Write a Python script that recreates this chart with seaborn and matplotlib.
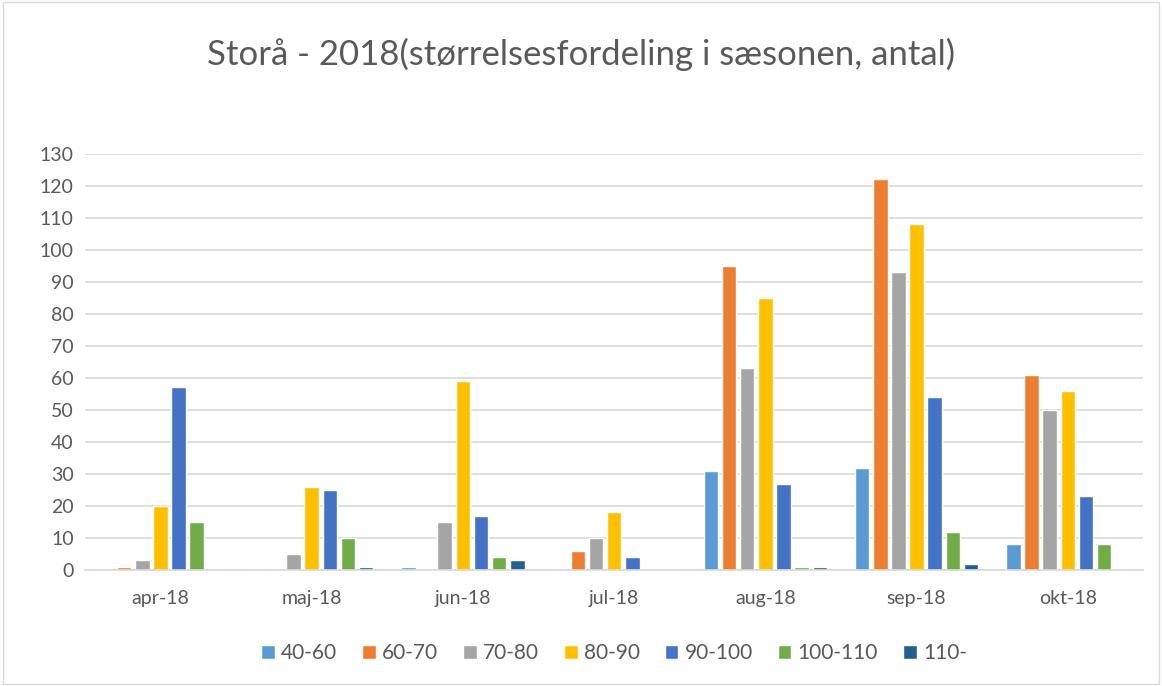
import matplotlib
matplotlib.use("Agg")
import matplotlib.pyplot as plt
import seaborn as sns
import pandas as pd
from matplotlib.patches import Rectangle

months = ["apr-18", "maj-18", "jun-18", "jul-18", "aug-18", "sep-18", "okt-18"]
sizes = ["40-60", "60-70", "70-80", "80-90", "90-100", "100-110", "110-"]
v_40_60 = [0, 0, 1, 0, 31, 32, 8]
v_60_70 = [1, 0, 0, 6, 95, 122, 61]
v_70_80 = [3, 5, 15, 10, 63, 93, 50]
v_80_90 = [20, 26, 59, 18, 85, 108, 56]
v_90_100 = [57, 25, 17, 4, 27, 54, 23]
v_100_110 = [15, 10, 4, 0, 1, 12, 8]
v_110 = [0, 1, 3, 0, 1, 2, 0]
series = [v_40_60, v_60_70, v_70_80, v_80_90, v_90_100, v_100_110, v_110]
colors = ["#5B9BD5", "#ED7D31", "#A5A5A5", "#FFC000", "#4472C4", "#70AD47", "#255E91"]

rows = []
for s, vals in zip(sizes, series):
    for m, v in zip(months, vals):
        rows.append({"month": m, "size": s, "count": v})
df = pd.DataFrame(rows)

sns.set_theme(style="white")
plt.rcParams["font.family"] = ["Lato", "DejaVu Sans"]
txt = "#595959"

fig = plt.figure(figsize=(11.62, 6.86), dpi=100)
ax = fig.add_axes([0.073, 0.169, 0.911, 0.607])
sns.barplot(data=df, x="month", y="count", hue="size", order=months, hue_order=sizes,
            palette=colors, width=0.84, gap=0.2, saturation=1, ax=ax, legend=True)

ax.set_ylim(0, 130)
ax.set_yticks(range(0, 131, 10))
ax.set_xlim(-0.5, len(months) - 0.5)
ax.yaxis.grid(True, color="#D9D9D9", linewidth=1.2)
ax.set_axisbelow(True)
for sp in ["top", "right", "left"]:
    ax.spines[sp].set_visible(False)
ax.spines["bottom"].set_color("#D9D9D9")
ax.spines["bottom"].set_linewidth(1.2)
ax.set_xlabel("")
ax.set_ylabel("")
ax.tick_params(axis="y", length=0, labelsize=14, labelcolor=txt, pad=8)
ax.tick_params(axis="x", which="major", length=0, labelsize=14, labelcolor=txt, pad=14)
ax.set_xticks([i - 0.5 for i in range(len(months) + 1)], minor=True)
ax.tick_params(axis="x", which="minor", length=6, color="#D9D9D9", width=1.2, direction="out")

fig.suptitle("Storå - 2018(størrelsesfordeling i sæsonen, antal)", x=0.5, y=0.945,
             fontsize=25, color=txt, fontweight="normal")

handles, labels = ax.get_legend_handles_labels()
ax.legend(handles, labels, loc="center", bbox_to_anchor=(0.5, -0.2), ncol=7, frameon=False,
          fontsize=15, labelcolor=txt, handlelength=0.65, handleheight=0.65, handletextpad=0.3,
          columnspacing=1.2)

fig.patches.append(Rectangle((0.003, 0.003), 0.994, 0.994, transform=fig.transFigure,
                             fill=False, edgecolor="#D9D9D9", linewidth=1))
fig.savefig("out.png", dpi=100)
